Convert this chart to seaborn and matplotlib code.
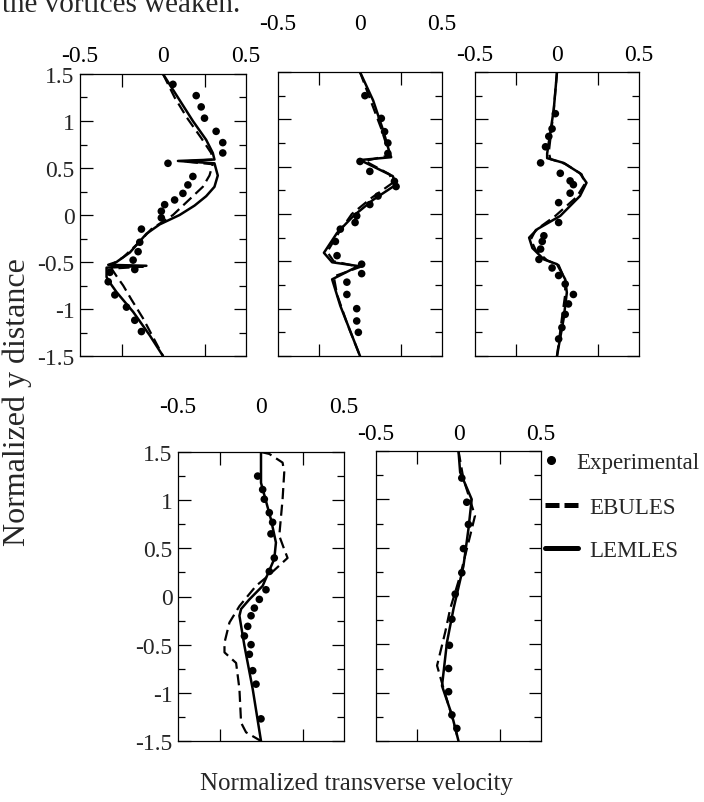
import matplotlib
matplotlib.use("Agg")
import matplotlib.pyplot as plt
import seaborn as sns
from matplotlib.lines import Line2D
from matplotlib.ticker import FixedLocator, MultipleLocator

sns.set_style("white")
plt.rcParams["font.family"] = ["Liberation Serif", "DejaVu Serif"]

# ---- station 1 ----
p1_exp_u = [0.06, 0.20, 0.23, 0.25, 0.32, 0.36, 0.36, 0.03, 0.18, 0.15, 0.12, 0.07, 0.01,
            -0.01, -0.01, -0.13, -0.14, -0.15, -0.18, -0.17, -0.32, -0.33, -0.29, -0.22, -0.17, -0.13]
p1_exp_y = [1.39, 1.27, 1.15, 1.03, 0.89, 0.77, 0.66, 0.55, 0.41, 0.32, 0.23, 0.16, 0.11,
            0.04, -0.03, -0.15, -0.29, -0.39, -0.48, -0.58, -0.61, -0.71, -0.85, -0.98, -1.12, -1.24]
p1_les_u = [0, 0.09, 0.18, 0.26, 0.30, 0.31, 0.09, 0.31, 0.33, 0.31, 0.26, 0.19, 0.10, -0.02,
            -0.10, -0.15, -0.20, -0.28, -0.33, -0.10, -0.34, -0.34, -0.32, -0.28, -0.18, -0.08, 0]
p1_les_y = [1.5, 1.25, 1.0, 0.8, 0.66, 0.59, 0.575, 0.55, 0.42, 0.3, 0.2, 0.1, 0.0, -0.1,
            -0.2, -0.3, -0.4, -0.5, -0.53, -0.54, -0.56, -0.66, -0.72, -0.82, -1.03, -1.28, -1.5]
p1_ebu_u = [0, 0.07, 0.15, 0.23, 0.29, 0.30, 0.12, 0.30, 0.28, 0.24, 0.15, 0.06, -0.07,
            -0.15, -0.24, -0.31, -0.12, -0.31, -0.28, -0.24, -0.19, -0.12, -0.06, 0]
p1_ebu_y = [1.5, 1.25, 1.02, 0.82, 0.66, 0.59, 0.57, 0.54, 0.42, 0.3, 0.15, 0.0, -0.15,
            -0.3, -0.45, -0.53, -0.55, -0.57, -0.65, -0.75, -0.9, -1.1, -1.3, -1.5]

# ---- station 2 ----
p2_exp_u = [0.03, 0.13, 0.15, 0.17, 0.17, 0.0, 0.06, 0.21, 0.22, 0.11, 0.06, -0.02, -0.03,
            -0.12, -0.15, -0.14, 0.01, 0.01, -0.08, -0.08, -0.02, -0.02, -0.01]
p2_exp_y = [1.25, 1.01, 0.87, 0.75, 0.64, 0.555, 0.45, 0.345, 0.29, 0.19, 0.10, -0.02, -0.09,
            -0.16, -0.29, -0.44, -0.53, -0.63, -0.72, -0.85, -1.0, -1.13, -1.25]
p2_les_u = [0, 0.08, 0.14, 0.18, 0.19, 0.0, 0.20, 0.22, 0.08, -0.04, -0.14, -0.22, -0.17,
            -0.01, -0.17, -0.12, 0]
p2_les_y = [1.5, 1.2, 0.89, 0.65, 0.60, 0.57, 0.40, 0.31, 0.15, -0.02, -0.20, -0.41, -0.51,
            -0.55, -0.69, -0.97, -1.5]
p2_ebu_u = [0, 0.06, 0.13, 0.17, 0.18, 0.03, 0.18, 0.20, 0.07, -0.05, -0.13, -0.20, -0.16,
            0.0, -0.16, -0.14, -0.08, 0]
p2_ebu_y = [1.5, 1.22, 0.9, 0.68, 0.62, 0.56, 0.42, 0.33, 0.17, 0.0, -0.2, -0.40, -0.50,
            -0.56, -0.66, -0.85, -1.15, -1.5]

# ---- station 3 ----
p3_exp_u = [-0.01, -0.03, -0.05, -0.07, -0.10, 0.02, 0.08, 0.10, 0.08, 0.01, 0.01, -0.08,
            -0.09, -0.10, -0.11, -0.03, 0.01, 0.05, 0.10, 0.07, 0.05, 0.03, 0.01]
p3_exp_y = [1.06, 0.90, 0.82, 0.71, 0.54, 0.43, 0.35, 0.31, 0.22, 0.12, -0.09, -0.23,
            -0.29, -0.37, -0.48, -0.57, -0.65, -0.74, -0.85, -0.95, -1.06, -1.2, -1.32]
p3_les_u = [0, -0.02, -0.06, -0.06, 0.04, 0.14, 0.18, 0.14, 0.02, -0.12, -0.17, -0.15,
            -0.08, 0.0, 0.05, 0.06, 0.04, 0]
p3_les_y = [1.5, 1.1, 0.64, 0.59, 0.54, 0.43, 0.33, 0.19, -0.02, -0.16, -0.25, -0.36,
            -0.48, -0.53, -0.69, -0.83, -1.11, -1.5]
p3_ebu_u = [0, -0.02, -0.05, -0.04, 0.05, 0.15, 0.17, 0.12, -0.01, -0.13, -0.16, -0.13,
            -0.06, 0.01, 0.05, 0.05, 0.03, 0]
p3_ebu_y = [1.5, 1.1, 0.65, 0.58, 0.53, 0.42, 0.32, 0.18, -0.02, -0.17, -0.27, -0.38,
            -0.49, -0.54, -0.70, -0.85, -1.1, -1.5]

# ---- station 4 ----
p4_exp_u = [-0.02, 0.01, 0.02, 0.05, 0.07, 0.06, 0.08, 0.05, 0.03, -0.01, -0.04, -0.06,
            -0.08, -0.10, -0.06, -0.07, -0.05, -0.03, 0.0]
p4_exp_y = [1.25, 1.11, 1.01, 0.87, 0.77, 0.65, 0.40, 0.26, 0.07, -0.03, -0.12, -0.20,
            -0.31, -0.41, -0.50, -0.60, -0.77, -0.91, -1.27]
p4_les_u = [0, 0.0, 0.06, 0.09, 0.08, 0.01, -0.07, -0.12, -0.13, -0.10, -0.05, 0]
p4_les_y = [1.5, 1.18, 0.80, 0.56, 0.39, 0.11, -0.03, -0.13, -0.20, -0.51, -0.96, -1.5]
p4_ebu_u = [0, 0.05, 0.13, 0.14, 0.13, 0.11, 0.14, 0.16, 0.04, -0.03, -0.13, -0.19, -0.22,
            -0.22, -0.15, -0.13, -0.12, -0.09, -0.02, 0]
p4_ebu_y = [1.5, 1.48, 1.39, 1.29, 1.01, 0.63, 0.49, 0.40, 0.21, 0.11, -0.10, -0.27, -0.48,
            -0.58, -0.69, -0.96, -1.31, -1.41, -1.48, -1.5]

# ---- station 5 ----
p5_exp_u = [0.02, 0.05, 0.06, 0.03, 0.02, -0.02, -0.04, -0.055, -0.06, -0.06, -0.04, -0.01]
p5_exp_y = [1.22, 0.97, 0.74, 0.49, 0.24, 0.02, -0.24, -0.51, -0.75, -0.99, -1.23, -1.37]
p5_les_u = [0, 0.01, 0.08, 0.06, 0.03, -0.03, -0.07, -0.10, -0.04, 0]
p5_les_y = [1.5, 1.28, 1.0, 0.69, 0.31, -0.13, -0.48, -0.93, -1.23, -1.5]
p5_ebu_u = [0, 0.03, 0.10, 0.07, 0.01, -0.05, -0.08, -0.13, -0.09, -0.03, 0]
p5_ebu_y = [1.5, 1.21, 0.83, 0.62, 0.21, -0.13, -0.37, -0.72, -0.96, -1.30, -1.5]

x_ticks = [-0.5, 0, 0.5]
x_tick_labels = ["-0.5", "0", "0.5"]
y_ticks = [-1.5, -1.0, -0.5, 0.0, 0.5, 1.0, 1.5]
y_tick_labels = ["-1.5", "-1", "-0.5", "0", "0.5", "1", "1.5"]

W, H = 704, 803
fig = plt.figure(figsize=(W / 100, H / 100), dpi=100)


def add_panel(left, top, right, bottom):
    return fig.add_axes([left / W, 1 - bottom / H, (right - left) / W, (bottom - top) / H])


# (frame box in pixels, data, show y labels, x label pad)
panels = [
    ((80, 75, 246, 357), (p1_exp_u, p1_exp_y, p1_les_u, p1_les_y, p1_ebu_u, p1_ebu_y), True, 6),
    ((278, 73, 442, 357), (p2_exp_u, p2_exp_y, p2_les_u, p2_les_y, p2_ebu_u, p2_ebu_y), False, 27),
    ((475, 73, 639, 357), (p3_exp_u, p3_exp_y, p3_les_u, p3_les_y, p3_ebu_u, p3_ebu_y), False, 5),
    ((178, 453, 344, 742), (p4_exp_u, p4_exp_y, p4_les_u, p4_les_y, p4_ebu_u, p4_ebu_y), True, 25),
    ((376, 452, 541, 742), (p5_exp_u, p5_exp_y, p5_les_u, p5_les_y, p5_ebu_u, p5_ebu_y), False, 5),
]

for box, (eu, ey, lu, ly, bu, by), ylab, xpad in panels:
    ax = add_panel(*box)
    sns.scatterplot(x=eu, y=ey, ax=ax, color="black", s=30, marker="o",
                    edgecolor="none", legend=False, zorder=2)
    sns.lineplot(x=bu, y=by, ax=ax, sort=False, estimator=None, color="black",
                 lw=1.6, linestyle=(0, (5, 2.5)), zorder=3)
    sns.lineplot(x=lu, y=ly, ax=ax, sort=False, estimator=None, color="black",
                 lw=1.8, zorder=4)
    ax.set_xlim(-0.5, 0.5)
    ax.set_ylim(-1.5, 1.5)
    ax.set_xlabel("")
    ax.set_ylabel("")
    for s in ax.spines.values():
        s.set_visible(True)
        s.set_color("black")
        s.set_linewidth(0.9)
    ax.xaxis.set_major_locator(FixedLocator(x_ticks))
    ax.xaxis.set_minor_locator(FixedLocator([-0.25, 0.25]))
    ax.set_xticklabels(x_tick_labels)
    ax.yaxis.set_major_locator(FixedLocator(y_ticks))
    ax.yaxis.set_minor_locator(MultipleLocator(0.25))
    ax.set_yticklabels(y_tick_labels if ylab else [])
    ax.tick_params(axis="x", which="major", top=True, bottom=True, labeltop=True,
                   labelbottom=False, direction="in", length=0, pad=xpad,
                   labelsize=17, colors="black")
    ax.tick_params(axis="x", which="minor", top=True, bottom=True, direction="in",
                   length=9, width=0.9, color="black")
    ax.tick_params(axis="y", which="major", left=True, right=True, direction="in",
                   length=9, width=0.9, pad=4, labelsize=17, color="black",
                   labelleft=ylab)
    ax.tick_params(axis="y", which="minor", left=True, right=True, direction="in",
                   length=5, width=0.9, color="black")
    ax.grid(False)
    ax.set_facecolor("white")

fig.text(2 / W, 1 - 12 / H, "the vortices weaken.", fontsize=21, ha="left", va="baseline")
fig.text(17 / W, 1 - 402 / H, "Normalized y distance", rotation=90, fontsize=23,
         ha="center", va="center")
fig.text(356 / W, 1 - 784 / H, "Normalized transverse velocity", fontsize=18,
         ha="center", va="center")

# legend: measured series on its own row, the two simulations below
exp_handle = Line2D([], [], color="black", marker="o", linestyle="none", markersize=5.5)
ebu_handle = Line2D([], [], color="black", lw=3.6, linestyle=(0, (2.8, 1.0)))
les_handle = Line2D([], [], color="black", lw=3.6)

fig.legend([exp_handle], ["Experimental"], loc="center left",
           bbox_to_anchor=(545 / W, 1 - 463 / H), frameon=False, fontsize=16.5,
           handlelength=0.5, handletextpad=0.85, borderpad=0, borderaxespad=0)
fig.legend([ebu_handle, les_handle], ["EBULES", "LEMLES"], loc="center left",
           bbox_to_anchor=(545 / W, 1 - 530 / H), frameon=False, fontsize=16.5,
           handlelength=1.45, handletextpad=0.5, labelspacing=1.0, borderpad=0,
           borderaxespad=0)

fig.savefig("out.png", dpi=100)
